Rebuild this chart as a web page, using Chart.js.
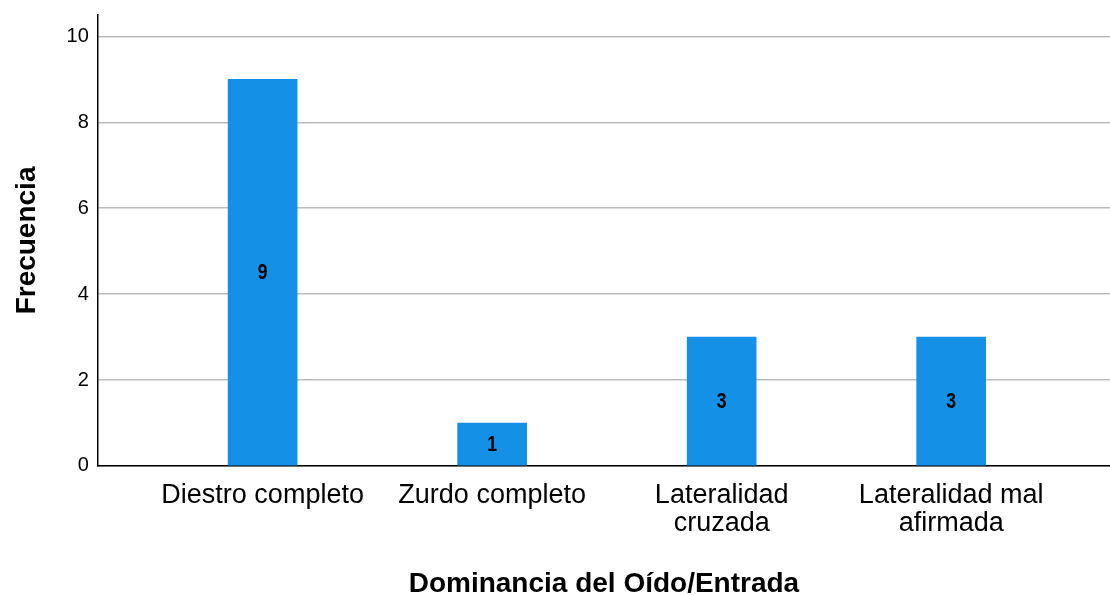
<!DOCTYPE html>
<html>
<head>
<meta charset="utf-8">
<script src="https://cdn.jsdelivr.net/npm/chart.js@4"></script>
<style>
  body { margin: 0; background: #fff; }
  #wrap { width: 1110px; height: 595px; position: relative; }
</style>
</head>
<body>
<div id="wrap"><canvas id="barChart"></canvas></div>
<script>
const categories = ['Diestro completo', 'Zurdo completo', 'Lateralidad cruzada', 'Lateralidad mal afirmada'];
const tickLabels = [['Diestro completo'], ['Zurdo completo'], ['Lateralidad', 'cruzada'], ['Lateralidad mal', 'afirmada']];
const frecuencia = [9, 1, 3, 3];
const yTicks = [0, 2, 4, 6, 8, 10];

const barData = {
  datasets: [{
    label: 'Frecuencia',
    data: frecuencia.map((v, i) => ({ x: i, y: v })),
    backgroundColor: '#1490e6',
    barThickness: 69
  }]
};

// value in the middle of each bar (narrow bold digits)
const barValues = {
  id: 'barValues',
  afterDatasetsDraw(chart) {
    const ctx = chart.ctx;
    chart.getDatasetMeta(0).data.forEach((bar, i) => {
      ctx.save();
      ctx.translate(bar.x, (bar.y + bar.base) / 2 + 1);
      ctx.scale(0.8, 1);
      ctx.font = 'bold 22px "Liberation Sans", Arial, sans-serif';
      ctx.fillStyle = '#000';
      ctx.textAlign = 'center';
      ctx.textBaseline = 'middle';
      ctx.fillText(String(frecuencia[i]), 0, 0);
      ctx.restore();
    });
  }
};

const barConfig = {
  type: 'bar',
  data: barData,
  plugins: [barValues],
  options: {
    responsive: true,
    maintainAspectRatio: false,
    animation: false,
    devicePixelRatio: 1,
    layout: {
      padding: { left: 6, right: 0, top: 15, bottom: 0 }
    },
    plugins: {
      legend: { display: false },
      tooltip: { enabled: false }
    },
    scales: {
      x: {
        type: 'linear',
        offset: false,
        min: -0.718,
        max: 3.692,
        afterBuildTicks: (scale) => {
          scale.ticks = categories.map((c, i) => ({ value: i }));
        },
        grid: { display: false, drawTicks: false },
        border: { display: true, color: '#000', width: 1.5 },
        ticks: {
          autoSkip: false,
          maxRotation: 0,
          padding: 15,
          color: '#000',
          font: { family: '"Liberation Sans", Arial, sans-serif', size: 27, lineHeight: 1.05 },
          callback: (v) => tickLabels[v]
        },
        title: {
          display: true,
          text: 'Dominancia del Oído/Entrada',
          color: '#000',
          padding: { top: 20, bottom: 0 },
          font: { family: '"Liberation Sans", Arial, sans-serif', size: 28, weight: 'bold', lineHeight: 0.8 }
        }
      },
      y: {
        min: 0,
        max: 10.5,
        afterBuildTicks: (scale) => {
          scale.ticks = yTicks.map(v => ({ value: v }));
        },
        afterFit: (scale) => {
          scale.paddingTop = 0;
        },
        grid: { color: '#bcbcbc', lineWidth: 1.5, drawTicks: false },
        border: { display: true, color: '#000', width: 1.5 },
        ticks: {
          padding: 9,
          color: '#000',
          font: { family: '"Liberation Sans", Arial, sans-serif', size: 20 }
        },
        title: {
          display: true,
          text: 'Frecuencia',
          color: '#000',
          padding: { top: 4, bottom: 14 },
          font: { family: '"Liberation Sans", Arial, sans-serif', size: 28, weight: 'bold' }
        }
      }
    }
  }
};

const myBarChart = new Chart(document.getElementById('barChart'), barConfig);
</script>
</body>
</html>
